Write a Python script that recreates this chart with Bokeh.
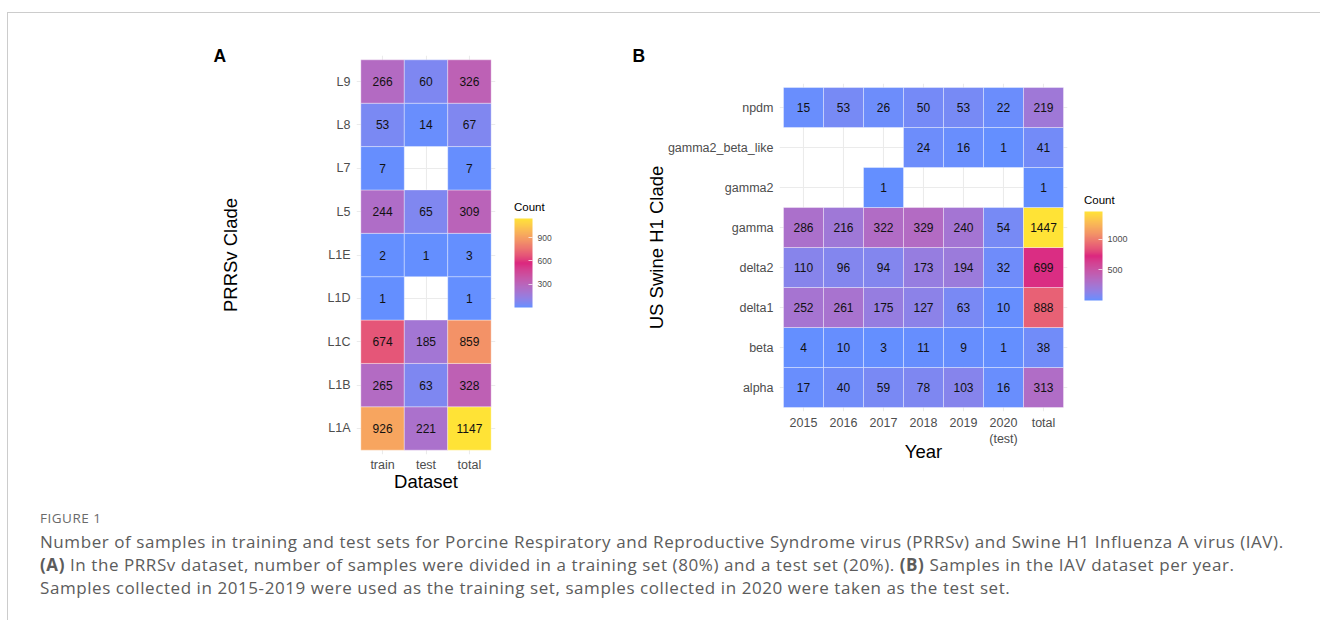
import numpy as np
from bokeh.plotting import figure
from bokeh.models import (ColumnDataSource, FactorRange, LinearColorMapper, ColorBar,
                          FixedTicker, Div, Spacer, Title)
from bokeh.layouts import row, column
from bokeh.transform import transform
from bokeh.core.properties import value
from bokeh.embed import file_html
from bokeh.resources import INLINE

# ---------------- Panel A data (PRRSv) ----------------
prrsv_clades = ["L1A", "L1B", "L1C", "L1D", "L1E", "L5", "L7", "L8", "L9"]
prrsv_sets = ["train", "test", "total"]
prrsv_train = [926, 265, 674, 1, 2, 244, 7, 53, 266]
prrsv_test = [221, 63, 185, None, 1, 65, None, 14, 60]
prrsv_total = [1147, 328, 859, 1, 3, 309, 7, 67, 326]

# ---------------- Panel B data (IAV) ----------------
iav_clades = ["alpha", "beta", "delta1", "delta2", "gamma", "gamma2",
              "gamma2_beta_like", "npdm"]
iav_years = ["2015", "2016", "2017", "2018", "2019", "2020\n(test)", "total"]
iav_2015 = [17, 4, 252, 110, 286, None, None, 15]
iav_2016 = [40, 10, 261, 96, 216, None, None, 53]
iav_2017 = [59, 3, 175, 94, 322, 1, None, 26]
iav_2018 = [78, 11, 127, 173, 329, None, 24, 50]
iav_2019 = [103, 9, 63, 194, 240, None, 16, 53]
iav_2020 = [16, 1, 10, 32, 54, None, 1, 22]
iav_total = [313, 38, 888, 699, 1447, 1, 41, 219]

caption_head = "FIGURE 1"
caption_lines = [
    "Number of samples in training and test sets for Porcine Respiratory and Reproductive Syndrome virus (PRRSv) and Swine H1 Influenza A virus (IAV).",
    "<b>(A)</b> In the PRRSv dataset, number of samples were divided in a training set (80%) and a test set (20%). <b>(B)</b> Samples in the IAV dataset per year.",
    "Samples collected in 2015-2019 were used as the training set, samples collected in 2020 were taken as the test set.",
]

# ---------------- colour ramp (CIELAB interpolation) ----------------
ANCHORS = ["#648FFF", "#DC267F", "#FFE336"]
_M = np.array([[0.4124564, 0.3575761, 0.1804375],
               [0.2126729, 0.7151522, 0.0721750],
               [0.0193339, 0.1191920, 0.9503041]])
_W = np.array([0.95047, 1.0, 1.08883])


def _hex(h):
    return np.array([int(h[i:i + 2], 16) for i in (1, 3, 5)]) / 255.0


def _to_lab(rgb):
    lin = np.where(rgb <= 0.04045, rgb / 12.92, ((rgb + 0.055) / 1.055) ** 2.4)
    xyz = _M @ lin / _W
    d = 6 / 29
    f = np.where(xyz > d ** 3, np.cbrt(xyz), xyz / (3 * d * d) + 4 / 29)
    return np.array([116 * f[1] - 16, 500 * (f[0] - f[1]), 200 * (f[1] - f[2])])


def _to_rgb(lab):
    d = 6 / 29
    fy = (lab[0] + 16) / 116
    f = np.array([fy + lab[1] / 500, fy, fy - lab[2] / 200])
    xyz = np.where(f > d, f ** 3, 3 * d * d * (f - 4 / 29)) * _W
    lin = np.linalg.solve(_M, xyz)
    lin = np.clip(lin, 0, None)
    rgb = np.where(lin <= 0.0031308, 12.92 * lin, 1.055 * lin ** (1 / 2.4) - 0.055)
    return np.clip(rgb, 0, 1)


def make_palette(n=256):
    labs = [_to_lab(_hex(h)) for h in ANCHORS]
    out = []
    for t in np.linspace(0, 1, n):
        seg = min(int(t * (len(labs) - 1)), len(labs) - 2)
        u = t * (len(labs) - 1) - seg
        lab = labs[seg] * (1 - u) + labs[seg + 1] * u
        r, g, b = (_to_rgb(lab) * 255).round().astype(int)
        out.append("#%02x%02x%02x" % (r, g, b))
    return out


PALETTE = make_palette()
FONT = "Liberation Sans"


def build_source(rows, cols, series):
    xs, ys, vals = [], [], []
    for col, ser in zip(cols, series):
        for r, v in zip(rows, ser):
            if v is not None:
                xs.append(col)
                ys.append(r)
                vals.append(v)
    return ColumnDataSource(dict(x=xs, y=ys, v=vals, t=[str(v) for v in vals]))


def heat(rows, cols, series, frame_w, frame_h, borders, xlabel, ylabel, ylab_standoff,
         xlab_standoff, xtick_standoff, cb_loc, cb_h, cb_ticks, cb_fs,
         letter, letter_offset, letter_standoff):
    src = build_source(rows, cols, series)
    vals = src.data["v"]
    mapper = LinearColorMapper(palette=PALETTE, low=min(vals), high=max(vals))
    p = figure(x_range=FactorRange(*cols, range_padding=0.1, range_padding_units="absolute"),
               y_range=FactorRange(*rows, range_padding=0.1, range_padding_units="absolute"),
               frame_width=frame_w, frame_height=frame_h,
               min_border_left=borders[0], min_border_right=borders[1],
               min_border_top=borders[2], min_border_bottom=borders[3],
               output_backend="svg", toolbar_location=None)
    p.frame_align = False
    p.outline_line_color = None
    p.background_fill_color = "white"
    p.border_fill_color = "white"
    for g in (p.xgrid, p.ygrid):
        g.grid_line_color = "#ebebeb"
        g.grid_line_width = 1.1
    p.rect(x="x", y="y", width=1, height=1, source=src,
           fill_color=transform("v", mapper), line_color="white",
           line_alpha=0.45, line_width=0.8)
    p.text(x="x", y="y", text="t", source=src, text_align="center",
           text_baseline="middle", text_font=value(FONT), text_font_size="12px",
           text_color="#111111")
    for ax in (p.xaxis, p.yaxis):
        ax.axis_line_color = None
        ax.major_tick_line_color = None
        ax.minor_tick_line_color = None
        ax.major_tick_out = 0
        ax.major_tick_in = 0
        ax.minor_tick_out = 0
        ax.minor_tick_in = 0
        ax.major_label_text_font = FONT
        ax.major_label_text_font_size = "12.5px"
        ax.major_label_text_color = "#4d4d4d"
        ax.axis_label_text_font = FONT
        ax.axis_label_text_font_size = "18.5px"
        ax.axis_label_text_font_style = "normal"
        ax.axis_label_text_color = "black"
    p.xaxis.axis_label = xlabel
    p.yaxis.axis_label = ylabel
    p.yaxis.major_label_standoff = 6
    p.xaxis.major_label_standoff = xtick_standoff
    p.yaxis.axis_label_standoff = ylab_standoff
    p.xaxis.axis_label_standoff = xlab_standoff

    cb = ColorBar(color_mapper=mapper, location=cb_loc, orientation="vertical",
                  width=18, height=cb_h, title=None,
                  ticker=FixedTicker(ticks=cb_ticks),
                  major_label_text_font=FONT, major_label_text_font_size=cb_fs,
                  major_label_text_color="#4d4d4d", label_standoff=5,
                  major_tick_line_color="white", major_tick_line_alpha=0.7,
                  major_tick_in=4, major_tick_out=0, minor_tick_line_color=None,
                  padding=0, margin=0, background_fill_alpha=0,
                  border_line_color=None, bar_line_color=None)
    p.add_layout(cb)
    p.add_layout(Title(text=letter, align="left", offset=letter_offset,
                       standoff=letter_standoff, vertical_align="bottom",
                       text_font=FONT, text_font_size="17.5px",
                       text_font_style="bold", text_color="black"), "above")
    return p


pA = heat(prrsv_clades, prrsv_sets, [prrsv_train, prrsv_test, prrsv_total],
          139, 399, (348, 105, 42, 52), "Dataset", "PRRSv Clade", 84, -4, 3,
          (158, 147), 89, [300, 600, 900], "8.5px", "A", -143, -21)

pB = heat(iav_clades, iav_years,
          [iav_2015, iav_2016, iav_2017, iav_2018, iav_2019, iav_2020, iav_total],
          288, 328, (179, 253, 70, 95), "Year", "US Swine H1 Clade", -2, -8, 4,
          (305, 111), 89, [500, 1000], "9px", "B", -147, 35)


def count_title(left, top):
    return Div(text="Count", width=40, height=14,
               styles={"position": "absolute", "left": "%dpx" % left, "top": "%dpx" % top,
                       "font-family": FONT, "font-size": "11.5px", "color": "black"})


cap_html = ('<div style="font-family: \'Open Sans\', sans-serif; color:#5c5c5c; white-space:nowrap;'
            ' padding-left:27px; line-height:23px; margin-top:-4px; letter-spacing:0.57px;">'
            '<div style="font-size:13.5px; color:#6a6a6a; letter-spacing:0.5px;">' + caption_head + '</div>'
            + "".join('<div style="font-size:17px;">' + s + '</div>' for s in caption_lines)
            + '</div>')
caption = Div(text=cap_html, width=1312, height=113)

framed = column(row(pA, pB), caption,
                styles={"border-top": "1px solid #cccccc", "border-left": "1px solid #cccccc"})
page = column(Spacer(height=12, width=10), row(Spacer(width=7, height=10), framed),
              count_title(509, 194), count_title(1079, 187))

open("out.html", "w").write(file_html(page, INLINE))
